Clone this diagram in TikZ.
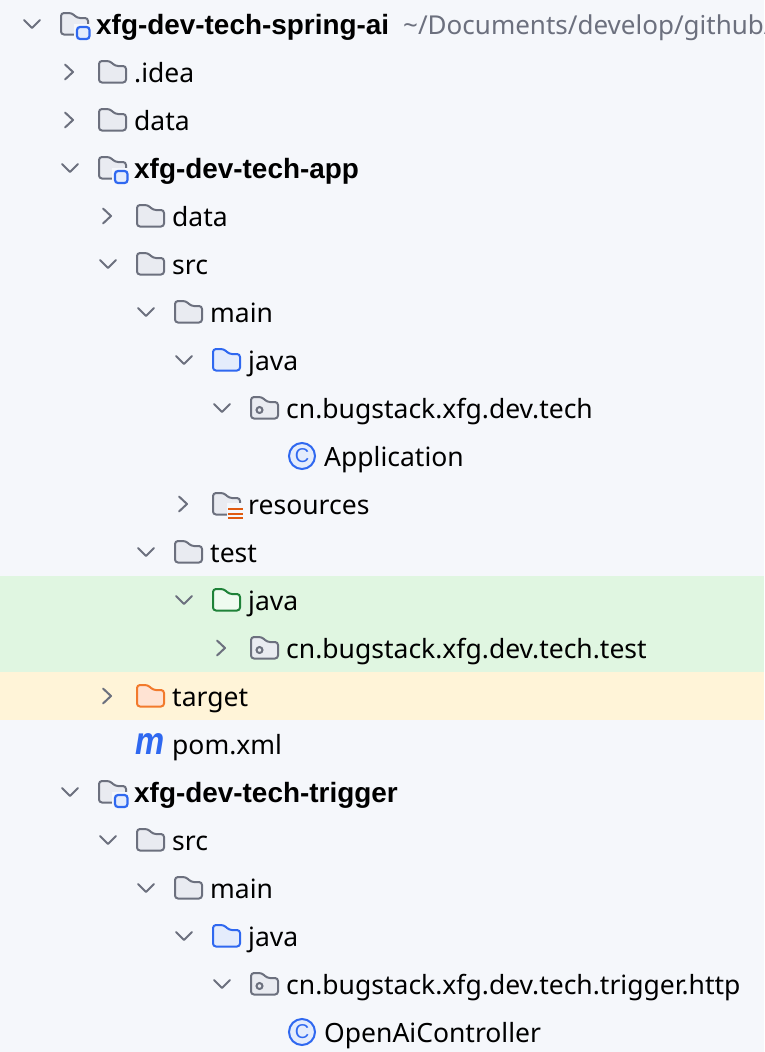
\documentclass[tikz,border=0pt]{standalone}
\usepackage{fontspec}
\setmainfont{Noto Sans}
\newfontfamily\modfont{Liberation Sans}

\definecolor{panelbg}{HTML}{F5F7FB}
\definecolor{testband}{HTML}{E0F6E1}
\definecolor{targetband}{HTML}{FFF4D8}
\definecolor{chevgray}{HTML}{6C707E}
\definecolor{dirfill}{HTML}{E9EBF1}
\definecolor{javablue}{HTML}{2F68F0}
\definecolor{javafill}{HTML}{E4ECFC}
\definecolor{testgreen}{HTML}{1F8239}
\definecolor{testfill}{HTML}{EFFBF0}
\definecolor{buildorange}{HTML}{F27A2C}
\definecolor{buildfill}{HTML}{FFE3D3}
\definecolor{resorange}{HTML}{E05A10}

\tikzset{
	graydir/.style={draw=chevgray,fill=dirfill},
	bluedir/.style={draw=javablue,fill=javafill},
	greendir/.style={draw=testgreen,fill=testfill},
	orangedir/.style={draw=buildorange,fill=buildfill},
	treelabel/.style={anchor=base west,inner sep=0pt,yshift=-1pt,text=black,font=\fontsize{26.5}{32}\selectfont},
	modlabel/.style={treelabel,font=\modfont\fontsize{27.9}{32}\selectfont\bfseries},
	pathlabel/.style={treelabel,text=chevgray,font=\fontsize{26}{32}\selectfont},
	down/.pic={\draw[chevgray,line width=2pt,line cap=round,line join=round] (-8,-4) -- (0,4) -- (8,-4);},
	right/.pic={\draw[chevgray,line width=2pt,line cap=round,line join=round] (-4,-7.5) -- (4,0) -- (-4,7.5);},
	folder/.pic={\draw[#1,line width=2pt,rounded corners=3pt] (0,-11) -- (11,-11) -- (16,-6) -- (27,-6) -- (27,10.5) -- (0,10.5) -- cycle;},
	module/.pic={
		\draw[graydir,line width=2pt,rounded corners=3pt] (0,-11) -- (11,-11) -- (16,-6) -- (27,-6) -- (27,10.5) -- (0,10.5) -- cycle;
		\fill[panelbg] (12.5,0) rectangle (31,17.5);
		\draw[bluedir,line width=2.2pt,rounded corners=3pt] (16,3) rectangle (28.5,15);
	},
	resdir/.pic={
		\draw[graydir,line width=2pt,rounded corners=3pt] (0,-11) -- (11,-11) -- (16,-6) -- (27,-6) -- (27,10.5) -- (0,10.5) -- cycle;
		\fill[panelbg] (14,-1) rectangle (32,17);
		\draw[resorange,line width=2pt] (15,5) -- (30,5) (15,9.5) -- (30,9.5) (15,14) -- (30,14);
	},
	package/.pic={
		\draw[graydir,line width=2pt,rounded corners=3pt] (0,-11) -- (11,-11) -- (16,-6) -- (27,-6) -- (27,10.5) -- (0,10.5) -- cycle;
		\draw[chevgray,line width=2pt] (8.5,2) circle (3);
	},
	classicon/.pic={
		\draw[bluedir,line width=2pt] (0,0) circle (13);
		\node[inner sep=0pt,text=javablue,font=\modfont\fontsize{20}{20}\selectfont] (letter) at (0,-0.5) {C};
	},
	mavenicon/.pic={
		\node[inner sep=0pt,text=javablue,xscale=.84,transform shape,font=\modfont\fontsize{39}{39}\selectfont\bfseries\itshape] (letter) at (0,0) {m};
	},
}

\begin{document}
\begin{tikzpicture}[x=1pt,y=-1pt]
		\useasboundingbox (0,0) rectangle (764,1052);
		\clip (0,0) rectangle (764,1052);
		\fill[panelbg] (0,0) rectangle (764,1052);
		\fill[testband] (0,576) rectangle (764,672);
		\fill[targetband] (0,672) rectangle (764,720);

		% project root
		\pic at (32,24) {down};  \pic at (61,24) {module};
		\node[modlabel] (root) at (96,33.5) {xfg-dev-tech-spring-ai};
		\node[pathlabel] (rootpath) at (403,33.5) {\textasciitilde/Documents/develop/github/};
		\pic at (69,72) {right};  \pic at (99,72) {folder=graydir};
		\node[treelabel] (idea) at (134,81.5) {.idea};
		\pic at (69,120) {right};  \pic at (99,120) {folder=graydir};
		\node[treelabel] (rootdata) at (134,129.5) {data};

		% app module
		\pic at (70,168) {down};  \pic at (99,168) {module};
		\node[modlabel] (app) at (134,177.5) {xfg-dev-tech-app};
		\pic at (107,216) {right};  \pic at (137,216) {folder=graydir};
		\node[treelabel] (appdata) at (172,225.5) {data};
		\pic at (108,264) {down};  \pic at (137,264) {folder=graydir};
		\node[treelabel] (appsrc) at (172,273.5) {src};
		\pic at (146,312) {down};  \pic at (175,312) {folder=graydir};
		\node[treelabel] (appmain) at (210,321.5) {main};
		\pic at (184,360) {down};  \pic at (213,360) {folder=bluedir};
		\node[treelabel] (appjava) at (248,369.5) {java};
		\pic at (222,408) {down};  \pic at (251,408) {package};
		\node[treelabel] (apppkg) at (286,417.5) {cn.bugstack.xfg.dev.tech};
		\pic at (302,456) {classicon};
		\node[treelabel] (application) at (324,465.5) {Application};
		\pic at (183,504) {right};  \pic at (213,504) {resdir};
		\node[treelabel] (resources) at (248,513.5) {resources};
		\pic at (146,552) {down};  \pic at (175,552) {folder=graydir};
		\node[treelabel] (apptest) at (210,561.5) {test};
		\pic at (184,600) {down};  \pic at (213,600) {folder=greendir};
		\node[treelabel] (testjava) at (248,609.5) {java};
		\pic at (221,648) {right};  \pic at (251,648) {package};
		\node[treelabel] (testpkg) at (286,657.5) {cn.bugstack.xfg.dev.tech.test};
		\pic at (107,696) {right};  \pic at (137,696) {folder=orangedir};
		\node[treelabel] (target) at (172,705.5) {target};
		\pic at (150,744) {mavenicon};
		\node[treelabel] (pom) at (172,753.5) {pom.xml};

		% trigger module
		\pic at (70,792) {down};  \pic at (99,792) {module};
		\node[modlabel] (trigger) at (134,801.5) {xfg-dev-tech-trigger};
		\pic at (108,840) {down};  \pic at (137,840) {folder=graydir};
		\node[treelabel] (trigsrc) at (172,849.5) {src};
		\pic at (146,888) {down};  \pic at (175,888) {folder=graydir};
		\node[treelabel] (trigmain) at (210,897.5) {main};
		\pic at (184,936) {down};  \pic at (213,936) {folder=bluedir};
		\node[treelabel] (trigjava) at (248,945.5) {java};
		\pic at (222,984) {down};  \pic at (251,984) {package};
		\node[treelabel] (trigpkg) at (286,993.5) {cn.bugstack.xfg.dev.tech.trigger.http};
		\pic at (302,1032) {classicon};
		\node[treelabel] (controller) at (324,1041.5) {OpenAiController};
		\end{tikzpicture}
\end{document}
